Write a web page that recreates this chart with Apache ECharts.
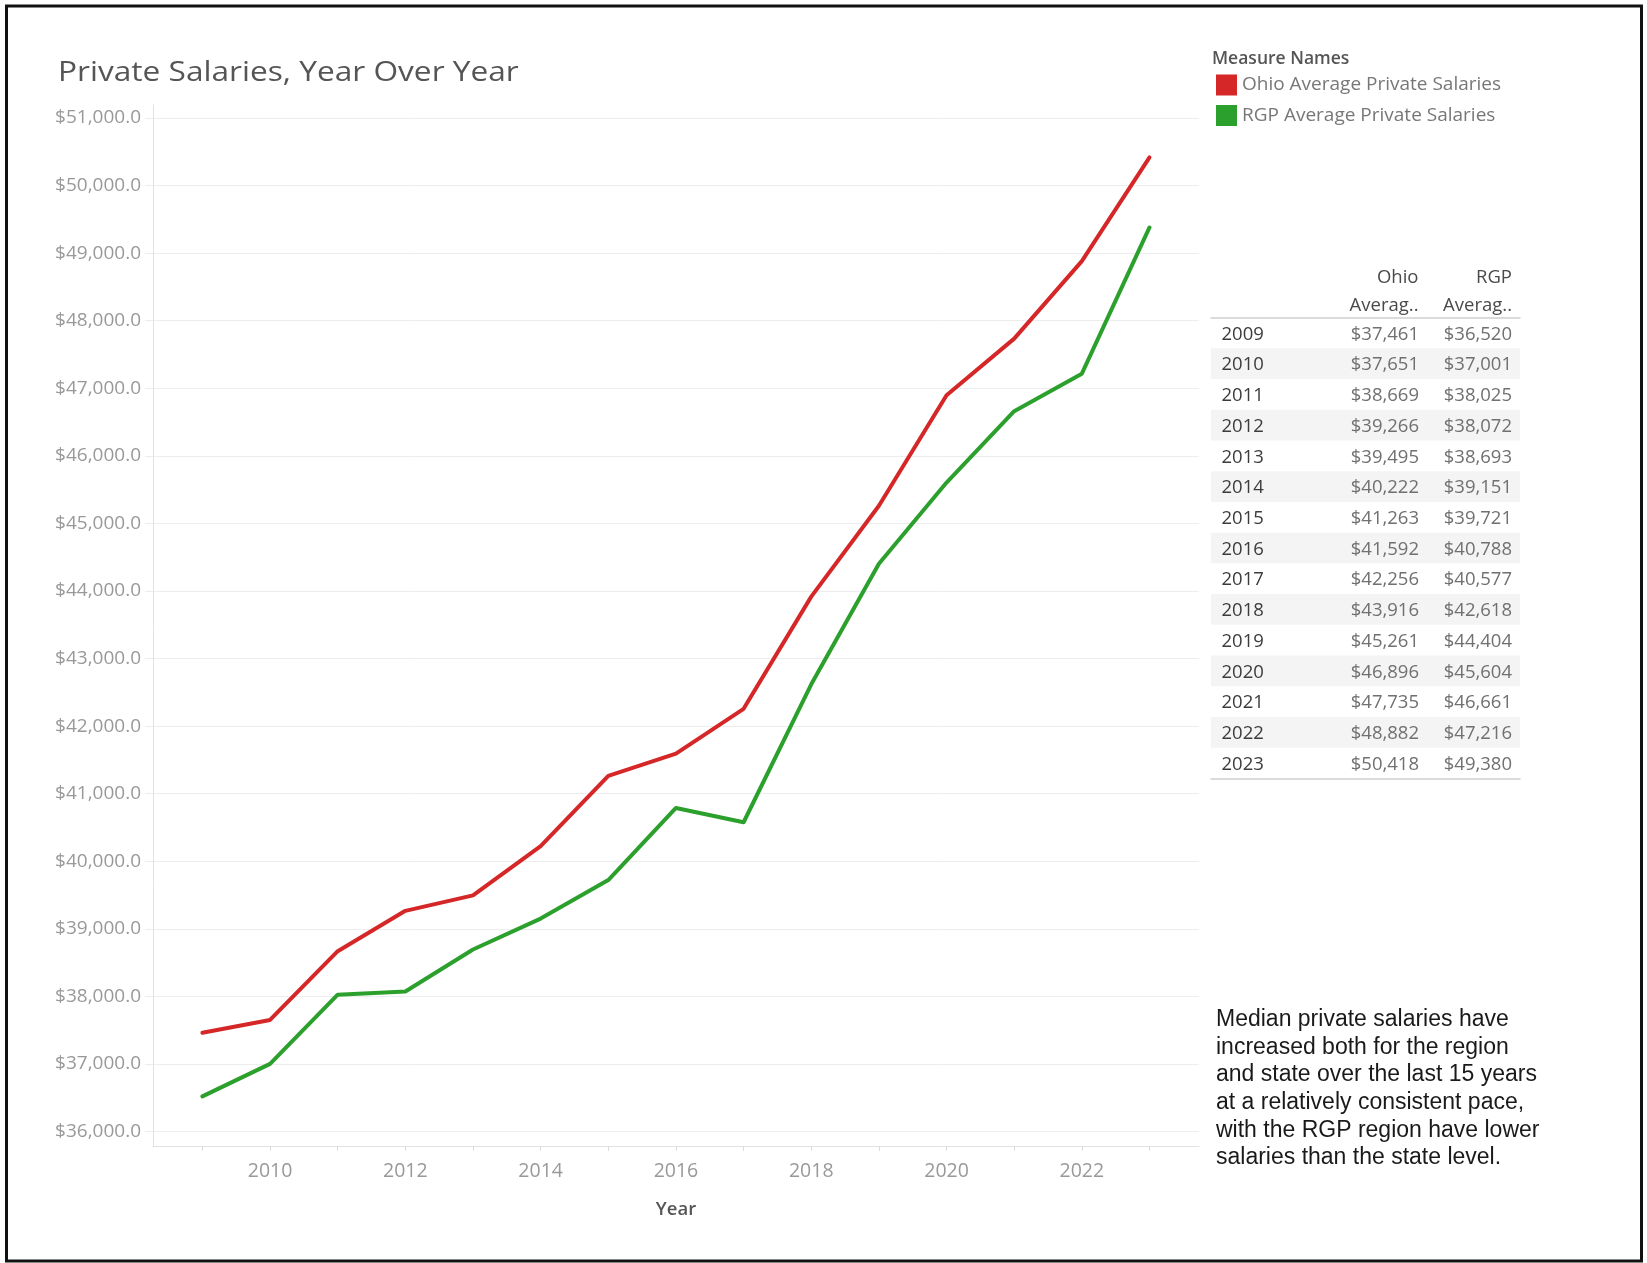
<!DOCTYPE html>
<html>
<head>
<meta charset="utf-8">
<script src="https://cdn.jsdelivr.net/npm/echarts@6/dist/echarts.min.js"></script>
<style>
html,body{margin:0;padding:0;background:#fff;}
#chart{width:1647px;height:1263px;}
</style>
</head>
<body>
<div id="chart"></div>
<script>
const years = [2009,2010,2011,2012,2013,2014,2015,2016,2017,2018,2019,2020,2021,2022,2023];
const ohioSalaries = [37461,37651,38669,39266,39495,40222,41263,41592,42256,43916,45261,46896,47735,48882,50418];
const rgpSalaries  = [36520,37001,38025,38072,38693,39151,39721,40788,40577,42618,44404,45604,46661,47216,49380];
const seriesNames = ['Ohio Average Private Salaries','RGP Average Private Salaries'];
const tableHeaders = [['Ohio','Averag..'],['RGP','Averag..']];
const chartTitle = 'Private Salaries, Year Over Year';
const yMin = 36000, yMax = 51000, yStep = 1000;
const noteLines = [
  'Median private salaries have',
  'increased both for the region',
  'and state over the last 15 years',
  'at a relatively consistent pace,',
  'with the RGP region have lower',
  'salaries than the state level.'
];

const TF = '"Open Sans", Lato, sans-serif';
const money = v => '$' + Number(v).toLocaleString('en-US');

const chart = echarts.init(document.getElementById('chart'), null, {renderer:'canvas'});

const tableData = years.map((y,i)=>[i, y, ohioSalaries[i], rgpSalaries[i]]);

function renderRow(params, api){
  const idx = api.value(0);
  const pt = api.coord([0, idx]);
  const cs = params.coordSys;
  const h = api.size([0,1])[1];
  const cy = pt[1];
  const ty = cy + 1.5;
  const children = [];
  if (idx % 2 === 1) {
    children.push({type:'rect', shape:{x:cs.x, y:cy-h/2, width:cs.width, height:h}, style:{fill:'#f4f4f4'}});
  }
  children.push({type:'text', style:{text:String(api.value(1)), x:cs.x+10.5, y:ty, align:'left', verticalAlign:'middle', fill:'#3c3c3c', font:'18.5px ' + TF}});
  children.push({type:'text', style:{text:money(api.value(2)), x:cs.x+208, y:ty, align:'right', verticalAlign:'middle', fill:'#707070', font:'18.5px ' + TF}});
  children.push({type:'text', style:{text:money(api.value(3)), x:cs.x+301, y:ty, align:'right', verticalAlign:'middle', fill:'#707070', font:'18.5px ' + TF}});
  return {type:'group', children};
}

const option = {
  backgroundColor:'#fff',
  animation:false,
  title:[
    {text:'Measure Names', left:1212, top:50, padding:0,
     textStyle:{fontSize:17.5, fontWeight:600, color:'#555', fontFamily:TF}}
  ],
  legend:{
    data:seriesNames, orient:'vertical', left:1216, top:74.5, padding:0,
    icon:'rect', itemWidth:21, itemHeight:21, itemGap:9.5,
    textStyle:{fontSize:19, color:'#777', fontFamily:TF}
  },
  grid:[
    {left:153, right:448, top:105, bottom:117},
    {left:153, right:448, top:118, bottom:131.5},
    {left:202.4, right:497.5, top:118, bottom:131.5},
    {left:1211, right:127, top:317.5, bottom:484.5}
  ],
  xAxis:[
    {gridIndex:0, type:'value', min:0, max:1, axisLine:{show:true, lineStyle:{color:'#e2e2e2', width:1}}, axisTick:{show:false}, axisLabel:{show:false}, splitLine:{show:false}},
    {gridIndex:1, type:'value', min:0, max:1, show:false},
    {gridIndex:2, type:'value', min:years[0], max:years[years.length-1], interval:1, offset:14.5,
     axisLine:{show:false}, axisTick:{show:true, length:5, lineStyle:{color:'#dcdcdc'}},
     axisLabel:{fontSize:19.5, color:'#999', fontFamily:TF, margin:15, formatter:v=> (v%2===0 ? String(v) : '')},
     splitLine:{show:false},
     name:'Year', nameLocation:'middle', nameGap:54,
     nameTextStyle:{fontSize:18.5, color:'#555', fontFamily:TF, fontWeight:600}},
    {gridIndex:3, type:'value', min:0, max:1, position:'top', axisLine:{show:true, lineStyle:{color:'#cfcfcf', width:1.5}}, axisTick:{show:false}, axisLabel:{show:false}, splitLine:{show:false}},
    {gridIndex:3, type:'value', min:0, max:1, position:'bottom', axisLine:{show:true, lineStyle:{color:'#cfcfcf', width:1.5}}, axisTick:{show:false}, axisLabel:{show:false}, splitLine:{show:false}}
  ],
  yAxis:[
    {gridIndex:0, type:'value', min:0, max:1, axisLine:{show:true, lineStyle:{color:'#e2e2e2', width:1}}, axisTick:{show:false}, axisLabel:{show:false}, splitLine:{show:false}},
    {gridIndex:1, type:'value', min:yMin, max:yMax, interval:yStep,
     axisLine:{show:false}, axisTick:{show:true, length:8, lineStyle:{color:'#ececec'}},
     axisLabel:{fontSize:19, color:'#999', fontFamily:TF, margin:12,
       formatter:v=>'$' + v.toLocaleString('en-US',{minimumFractionDigits:1, maximumFractionDigits:1})},
     splitLine:{show:true, lineStyle:{color:'#ededed', width:1}}},
    {gridIndex:2, type:'value', min:yMin, max:yMax, show:false},
    {gridIndex:3, type:'category', data:years, inverse:true, show:false}
  ],
  series:[
    {name:seriesNames[0], type:'line', xAxisIndex:2, yAxisIndex:2, color:'#d62728',
     data:years.map((y,i)=>[y, ohioSalaries[i]]), symbol:'none',
     lineStyle:{width:4, color:'#d62728', cap:'round', join:'round'}},
    {name:seriesNames[1], type:'line', xAxisIndex:2, yAxisIndex:2, color:'#2ca02c',
     data:years.map((y,i)=>[y, rgpSalaries[i]]), symbol:'none',
     lineStyle:{width:4, color:'#2ca02c', cap:'round', join:'round'}},
    {name:'table', type:'custom', xAxisIndex:3, yAxisIndex:3, data:tableData,
     encode:{y:0}, renderItem:renderRow, clip:false, silent:true}
  ],
  graphic:[
    {type:'rect', shape:{x:6.5, y:6, width:1635, height:1255}, style:{fill:'none', stroke:'#111', lineWidth:3}, silent:true},
    {type:'text', x:58, y:73, scaleX:1.13, style:{text:chartTitle, x:0, y:0, verticalAlign:'middle', fill:'#555', font:'28px ' + TF}},
    {type:'text', x:1418.5, y:277.5, style:{text:tableHeaders[0][0], align:'right', verticalAlign:'middle', fill:'#4a4a4a', font:'18.5px ' + TF}},
    {type:'text', x:1418.5, y:306, style:{text:tableHeaders[0][1], align:'right', verticalAlign:'middle', fill:'#4a4a4a', font:'18.5px ' + TF}},
    {type:'text', x:1512, y:277.5, style:{text:tableHeaders[1][0], align:'right', verticalAlign:'middle', fill:'#4a4a4a', font:'18.5px ' + TF}},
    {type:'text', x:1512, y:306, style:{text:tableHeaders[1][1], align:'right', verticalAlign:'middle', fill:'#4a4a4a', font:'18.5px ' + TF}},
    {type:'text', x:1216, y:1006, style:{text:noteLines.join('\n'), font:'23px "Liberation Sans", Arial, sans-serif', lineHeight:27.6, fill:'#1a1a1a'}}
  ]
};
chart.setOption(option);
</script>
</body>
</html>
